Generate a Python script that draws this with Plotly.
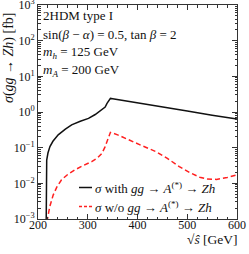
import plotly.graph_objects as go

# --- data ---
sqrt_s_with = [216.2, 216.5, 217.5, 220, 224, 230, 240.6, 255, 267.6, 285, 301.5, 315, 328.5,
               335, 338.7, 342, 345.6, 350, 400, 450, 500, 550, 600]
sigma_with = [0.00032, 0.0158, 0.0447, 0.0708, 0.107, 0.151, 0.229, 0.331, 0.437, 0.550, 0.661,
              0.851, 1.14, 1.38, 1.74, 2.04, 2.40, 2.34, 1.82, 1.38, 1.07, 0.813, 0.631]

sqrt_s_without = [217, 219, 223.7, 230.5, 238, 247.3, 260, 274.5, 291, 308, 320, 328.5, 335, 340,
                  345.6, 360, 389.5, 410, 437, 460, 484, 505, 525, 540, 558.8, 580, 600]
sigma_without = [0.0005, 0.001, 0.00224, 0.00468, 0.00794, 0.0126, 0.0178, 0.024, 0.0316, 0.0407,
                 0.0525, 0.0692, 0.107, 0.178, 0.269, 0.229, 0.148, 0.112, 0.0776, 0.0501, 0.0295,
                 0.02, 0.0148, 0.0132, 0.0129, 0.0145, 0.0174]

x_tickvals = [200, 300, 400, 500, 600]
x_ticktext = ["200", "300", "400", "500", "600"]
y_tickvals = [1e-3, 1e-2, 1e-1, 1e0, 1e1, 1e2, 1e3]
y_ticktext = ["10<sup>−3</sup>", "10<sup>−2</sup>", "10<sup>−1</sup>", "10<sup>0</sup>",
              "10<sup>1</sup>", "10<sup>2</sup>", "10<sup>3</sup>"]
y_minor = [m * 10.0 ** e for e in range(-3, 3) for m in range(2, 10)]

label_with = "<i>σ</i> with <i>gg</i> → <i>A</i><sup>(*)</sup> → <i>Zh</i>"
label_without = "<i>σ</i> w/o <i>gg</i> → <i>A</i><sup>(*)</sup> → <i>Zh</i>"
info_lines = ["2HDM type I",
              "sin(<i>β</i> − <i>α</i>) = 0.5, tan <i>β</i> = 2",
              "<i>m<sub>h</sub></i> = 125 GeV",
              "<i>m<sub>A</sub></i> = 200 GeV"]

FONT = "Liberation Serif"
BLACK = "#111111"
RED = "#ff2020"

fig = go.Figure()
fig.add_trace(go.Scatter(x=sqrt_s_with, y=sigma_with, mode="lines",
                         line=dict(color=BLACK, width=1.5), showlegend=False))
fig.add_trace(go.Scatter(x=sqrt_s_without, y=sigma_without, mode="lines",
                         line=dict(color=RED, width=1.5, dash="5px,3px"), showlegend=False))

W, H = 249, 254
ml, mr, mt, mb = 38, 12, 5, 35
pw, ph = W - ml - mr, H - mt - mb

def px(xp):
    return (xp - ml) / pw

def py(yp):
    return 1 - (yp - mt) / ph

annotations = []
for i, t in enumerate(info_lines):
    annotations.append(dict(text=t, x=px(41), y=py(16 + 18.2 * i), xref="paper", yref="paper",
                            xanchor="left", yanchor="middle", showarrow=False,
                            font=dict(family=FONT, size=13, color=BLACK)))
# legend texts
for t, yy in [(label_with, 187.5), (label_without, 206.5)]:
    annotations.append(dict(text=t, x=px(93), y=py(yy), xref="paper", yref="paper",
                            xanchor="left", yanchor="middle", showarrow=False,
                            font=dict(family=FONT, size=13, color=BLACK)))
# axis titles
annotations.append(dict(text="<i>σ</i>(<i>gg</i> → <i>Zh</i>) [fb]", x=px(9), y=py(58),
                        xref="paper", yref="paper", textangle=-90, showarrow=False,
                        xanchor="center", yanchor="middle",
                        font=dict(family=FONT, size=14, color=BLACK)))
annotations.append(dict(text="√<i>ŝ</i> [GeV]",
                        x=px(240), y=py(239), xref="paper", yref="paper",
                        xanchor="right", yanchor="middle", showarrow=False,
                        font=dict(family=FONT, size=13.5, color=BLACK)))

shapes = [
    dict(type="line", xref="paper", yref="paper", x0=px(79), x1=px(92), y0=py(187.5), y1=py(187.5),
         line=dict(color=BLACK, width=1.5)),
    dict(type="line", xref="paper", yref="paper", x0=px(79), x1=px(92), y0=py(206.5), y1=py(206.5),
         line=dict(color=RED, width=1.5, dash="3px,2px")),
]

fig.update_layout(
    width=W, height=H,
    margin=dict(l=ml, r=mr, t=mt, b=mb, autoexpand=False),
    paper_bgcolor="white", plot_bgcolor="white",
    font=dict(family=FONT, size=11, color=BLACK),
    annotations=annotations, shapes=shapes, showlegend=False,
)
fig.update_xaxes(range=[200, 600], tickvals=x_tickvals, ticktext=x_ticktext, automargin=False,
                 ticks="inside", ticklen=5, tickcolor="#333", showgrid=False, zeroline=False,
                 showline=True, linecolor="#333", linewidth=1, mirror="allticks",
                 ticklabeloverflow="allow", ticklabelstandoff=-5,
                 tickfont=dict(family=FONT, size=12),
                 minor=dict(dtick=20, tick0=200, ticks="inside", ticklen=2.5, tickcolor="#333",
                            showgrid=False))
fig.update_yaxes(type="log", range=[-3, 3], tickvals=y_tickvals, ticktext=y_ticktext,
                 automargin=False, ticklabeloverflow="allow",
                 ticks="inside", ticklen=5, tickcolor="#333", showgrid=False, zeroline=False,
                 showline=True, linecolor="#333", linewidth=1, mirror="allticks",
                 tickfont=dict(family=FONT, size=12),
                 minor=dict(tickvals=y_minor, ticks="inside", ticklen=2.5, tickcolor="#333",
                            showgrid=False))

fig.write_html("out.html", config={"displayModeBar": False},
               post_script="document.body.style.margin='0';")
